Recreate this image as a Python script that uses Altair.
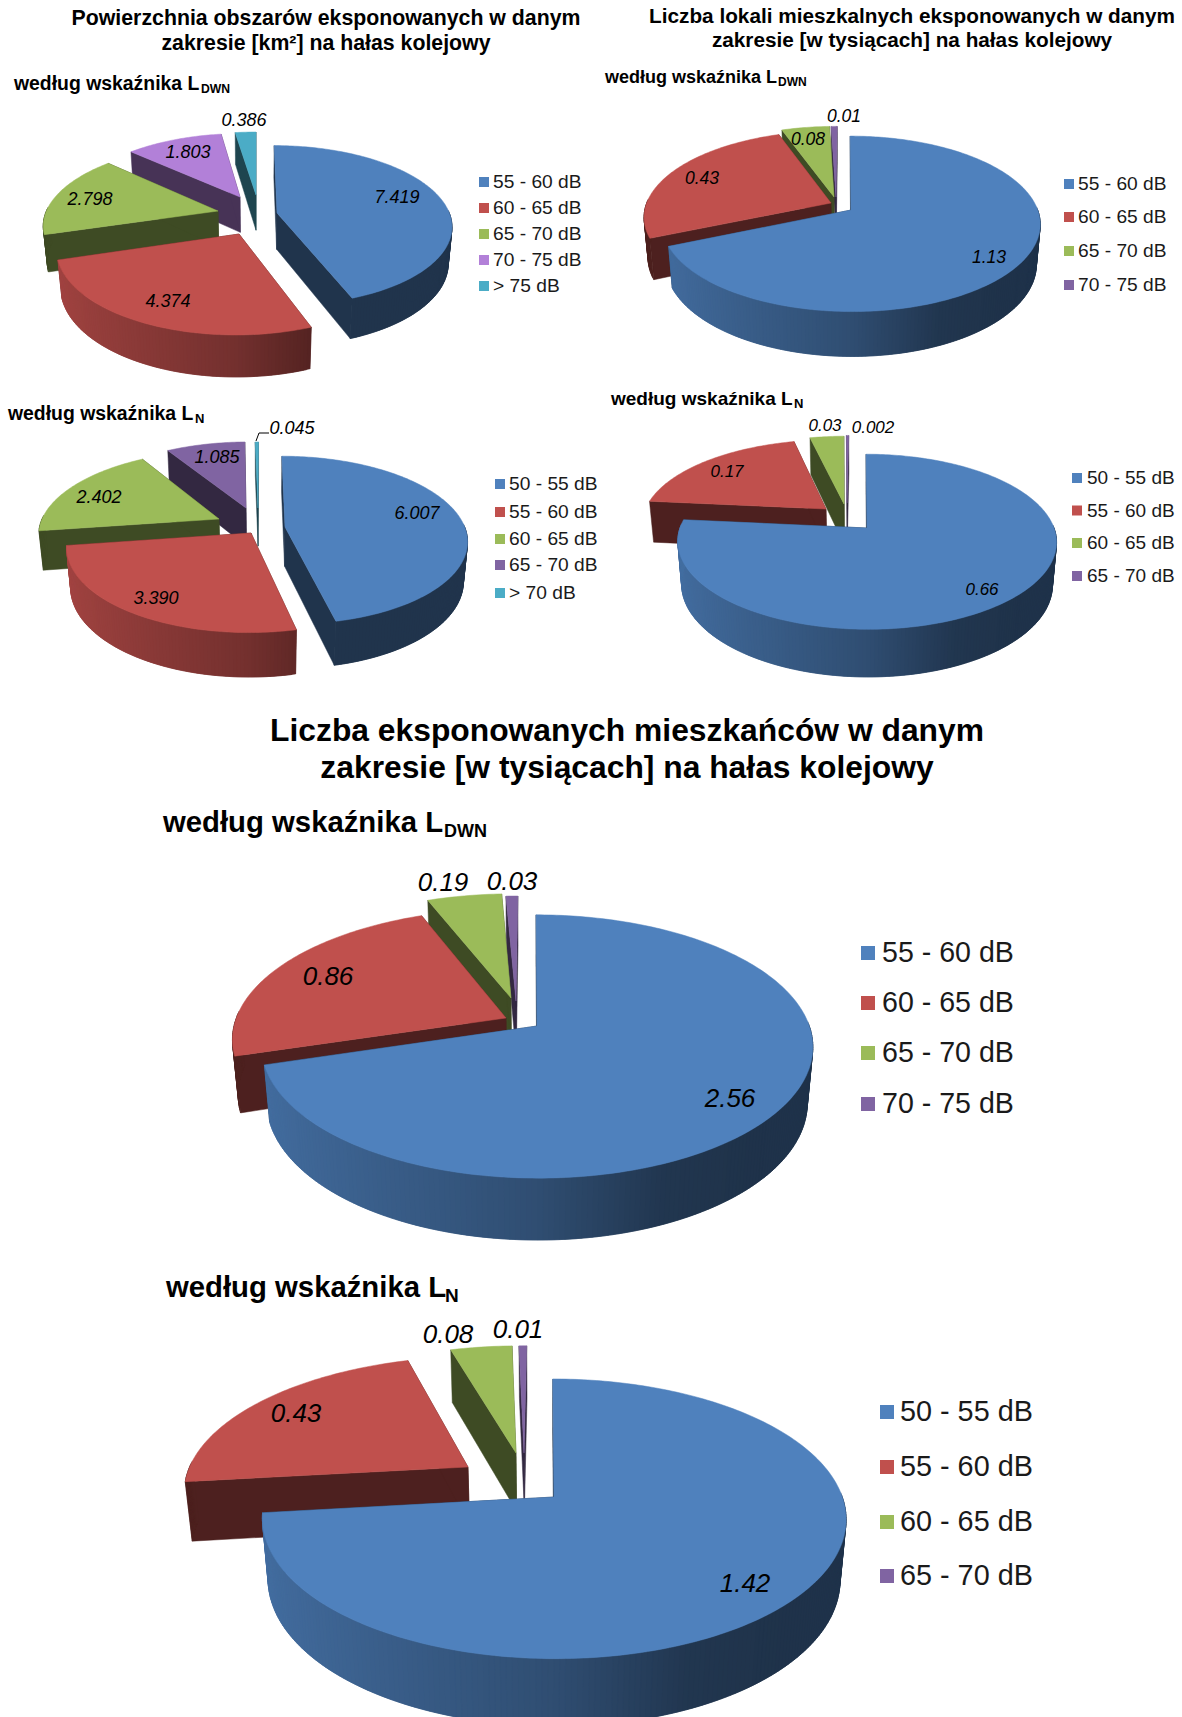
import math
import altair as alt
import numpy as np

# Exposure values for each pie, in slice order (clockwise from 12 o'clock)
area_dwn = [7.419, 4.374, 2.798, 1.803, 0.386]
area_n = [6.007, 3.390, 2.402, 1.085, 0.045]
dwellings_dwn = [1.13, 0.43, 0.08, 0.01]
dwellings_n = [0.66, 0.17, 0.03, 0.002]
residents_dwn = [2.56, 0.86, 0.19, 0.03]
residents_n = [1.42, 0.43, 0.08, 0.01]

# Noise bands named by the legends
bands_dwn5 = ["55 - 60 dB", "60 - 65 dB", "65 - 70 dB", "70 - 75 dB", "> 75 dB"]
bands_n5 = ["50 - 55 dB", "55 - 60 dB", "60 - 65 dB", "65 - 70 dB", "> 70 dB"]
bands_dwn4 = bands_dwn5[:4]
bands_n4 = bands_n5[:4]

BLUE, RED, GREEN, PURPLE, LILAC, CYAN = "#4F81BD", "#C0504D", "#9BBB59", "#8064A2", "#B280D8", "#4BACC6"

TITLE_LINES = [
    ("Powierzchnia obszarów eksponowanych w danym", 326, 24.5, 21.3),
    ("zakresie [km²] na hałas kolejowy", 326, 49.5, 21.3),
    ("Liczba lokali mieszkalnych eksponowanych w danym", 912, 22.5, 20.75),
    ("zakresie [w tysiącach] na hałas kolejowy", 912, 46.5, 20.75),
    ("Liczba eksponowanych mieszkańców w danym", 627, 740.5, 31.8),
    ("zakresie [w tysiącach] na hałas kolejowy", 627, 777.5, 31.8),
]

# Per-pie layout: optical centre, radius, camera tilt and distance, wall depth,
# the screen position of each slice's tip, and where its captions and legend sit.
PIES = [
    dict(values=area_dwn, bands=bands_dwn5, colors=[BLUE, RED, GREEN, LILAC, CYAN], decimals=3,
         c=(256, 215), R=173, tilt=27, dist=5.7, depth=0.24,
         tips=[(277, 213), (239, 234), (218, 211), (240, 197), (256, 195)],
         captions=[(397, 198), (168, 302), (90, 200), (188, 153), (244, 121)], cap=18,
         head=("według wskaźnika L", "DWN", 14, 90, 19.4, 12.2, 201),
         leg=(484, 493, [182, 208, 234, 260, 286], 19.2, 100)),
    dict(values=dwellings_dwn, bands=bands_dwn4, colors=[BLUE, RED, GREEN, PURPLE], decimals=0,
         c=(845, 205), R=185, tilt=27, dist=5.7, depth=0.245,
         tips=[(851, 210), (831, 203), (834, 197), (836, 197)],
         captions=[(989, 258), (702, 179), (808, 140), (844, 117)], cap=17.5,
         head=("według wskaźnika L", "DWN", 605, 83, 18, 12, 778),
         leg=(1069, 1078, [184, 217, 251, 285], 19.2, 100)),
    dict(values=area_n, bands=bands_n5, colors=[BLUE, RED, GREEN, PURPLE, CYAN], decimals=3,
         c=(262, 525), R=179, tilt=27, dist=5.7, depth=0.25,
         tips=[(285, 527), (251, 533), (219, 519), (246, 508), (258, 508)],
         captions=[(417, 514), (156, 599), (99, 498), (217, 458), (292, 429)], cap=18,
         head=("według wskaźnika L", "N", 8, 420, 19.4, 13, 195),
         leg=(500, 509, [484, 512, 539, 565, 593], 19.2, 100)),
    dict(values=dwellings_n, bands=bands_n4, colors=[BLUE, RED, GREEN, PURPLE], decimals=0,
         c=(860, 525), R=186, tilt=27, dist=5.7, depth=0.26,
         tips=[(867, 528), (826, 509), (844, 504), (847, 503)],
         captions=[(982, 590), (727, 472), (825, 426), (873, 428)], cap=17,
         head=("według wskaźnika L", "N", 611, 405, 19, 13, 794),
         leg=(1077, 1087, [478, 510.5, 543, 576], 19, 100)),
    dict(values=residents_dwn, bands=bands_dwn4, colors=[BLUE, RED, GREEN, PURPLE], decimals=0,
         c=(530, 1022), R=271, tilt=28, dist=5.7, depth=0.235,
         tips=[(537, 1026), (506, 1018), (511, 998), (516, 1001)],
         captions=[(730, 1099), (328, 977), (443, 883), (512, 882)], cap=26,
         head=("według wskaźnika L", "DWN", 163, 832, 29.3, 18, 444),
         leg=(868, 882, [953, 1003, 1053, 1104], 28.6, 196)),
    dict(values=residents_n, bands=bands_n4, colors=[BLUE, RED, GREEN, PURPLE], decimals=0,
         c=(545, 1490), R=286, tilt=28, dist=5.7, depth=0.242,
         tips=[(554, 1497), (468, 1467), (516, 1453), (524, 1453)],
         captions=[(745, 1584), (296, 1414), (448, 1335), (518, 1330)], cap=26,
         head=("według wskaźnika L", "N", 166, 1297, 29.3, 19, 445),
         leg=(887, 900, [1412, 1467, 1522, 1576], 28.8, 196)),
]

# Leader joining the 0.045 caption to its sliver
LEADER = [(256, 441), (259, 433), (269, 433)]


def shade(color, f):
    r, g, b = (int(color[i:i + 2], 16) for i in (1, 3, 5))
    return "#%02x%02x%02x" % (round(r * f), round(g * f), round(b * f))


def polygon(points, fill):
    ring = [[float(x), float(y)] for x, y in points]
    ring.append(ring[0])
    return {"type": "Feature", "geometry": {"type": "Polygon", "coordinates": [ring]},
            "properties": {"fill": fill}}


def make_projector(pie):
    cx, cy = pie["c"]
    R, D = pie["R"], pie["dist"]
    e = math.radians(pie["tilt"])

    def project(X, Y, Z=0.0):
        xv, yv, d = X, Y * math.sin(e) + Z * math.cos(e), Y * math.cos(e) - Z * math.sin(e)
        s = D / (D + d)
        return cx + R * xv * s, cy - R * yv * s

    def unproject(px, py):
        sx, sy = px - cx, cy - py
        Y = sy * D / (R * math.sin(e) * D - sy * math.cos(e))
        return sx / R * (D + Y * math.cos(e)) / D, Y

    return project, unproject


def pie_features(pie):
    """Turn one pie's values into painter-ordered 3D polygons."""
    project, unproject = make_projector(pie)
    h = pie["depth"]
    total = sum(pie["values"])
    start = 0.0
    slices = []
    for value, color, tip in zip(pie["values"], pie["colors"], pie["tips"]):
        sweep = value / total * 2 * math.pi
        X0, Y0 = unproject(*tip)
        steps = max(6, int(math.degrees(sweep)))
        angles = np.linspace(start, start + sweep, steps + 1)
        start += sweep
        slices.append((float(np.mean(np.cos(angles))), Y0, X0, angles, color))

    features = []
    for mean_cos, Y0, X0, angles, color in sorted(slices, key=lambda s: -(s[0] + s[1])):
        dark = shade(color, 0.4)
        for a in (angles[0], angles[-1]):
            rim_x, rim_y = X0 + math.sin(a), Y0 + math.cos(a)
            features.append(polygon([project(X0, Y0), project(rim_x, rim_y),
                                     project(rim_x, rim_y, -h), project(X0, Y0, -h)], dark))
        # Only the camera-facing part of the rim is drawn; it shades towards the right.
        # Each strip reaches over the next one, which hides the seams between them.
        for i in range(len(angles) - 1):
            a0, a1 = angles[i], angles[min(i + 2, len(angles) - 1)]
            mid = (angles[i] + angles[i + 1]) / 2
            if math.cos(mid) > 0.03:
                continue
            u = math.sin(mid)
            f = 0.4 if mean_cos > 0 else float(np.interp(u, [-1, 0, 0.4, 0.7], [0.85, 0.6, 0.42, 0.39]))
            features.append(polygon([
                project(X0 + math.sin(a0), Y0 + math.cos(a0)),
                project(X0 + math.sin(a1), Y0 + math.cos(a1)),
                project(X0 + math.sin(a1), Y0 + math.cos(a1), -h),
                project(X0 + math.sin(a0), Y0 + math.cos(a0), -h)], shade(color, f)))
        top = [project(X0, Y0)] + [project(X0 + math.sin(a), Y0 + math.cos(a)) for a in angles]
        features.append(polygon(top, color))
    return features


features, captions, heads, subs, swatches, keys = [], [], [], [], [], []
for pie in PIES:
    features += pie_features(pie)
    for v, (x, y) in zip(pie["values"], pie["captions"]):
        captions.append({"x": x, "y": y, "t": f"{v:.3f}" if pie["decimals"] == 3 else str(v), "s": pie["cap"]})
    main, sub, hx, hy, hs, ss, sx = pie["head"]
    heads.append({"x": hx, "y": hy, "t": main, "s": hs})
    subs.append({"x": sx, "y": hy + hs * 0.16, "t": sub, "s": ss})
    mx, tx, rows, ls, area = pie["leg"]
    for band, color, row in zip(pie["bands"], pie["colors"], rows):
        swatches.append({"x": mx, "y": row, "c": color, "a": area})
        keys.append({"x": tx, "y": row, "t": band, "s": ls})

titles = [{"t": t, "x": x, "y": y, "s": s} for t, x, y, s in TITLE_LINES]
leader = [{"x": x, "y": y, "o": i} for i, (x, y) in enumerate(LEADER)]

FONT = "Liberation Sans"
px = alt.X("x:Q", scale=None, axis=None)
py = alt.Y("y:Q", scale=None, axis=None)
text_enc = dict(x=px, y=py, text="t:N", size=alt.Size("s:Q", scale=None, legend=None))

solids = alt.Chart(alt.Data(values=features)).mark_geoshape(strokeWidth=0.5).encode(
    fill=alt.Fill("properties.fill:N", scale=None, legend=None),
    stroke=alt.Stroke("properties.fill:N", scale=None, legend=None),
).project(type="identity", scale=1, translate=[0, 0], reflectY=False)

title_layer = alt.Chart(alt.Data(values=titles)).mark_text(
    font=FONT, fontWeight="bold", align="center", baseline="alphabetic", color="#000000").encode(**text_enc)
head_layer = alt.Chart(alt.Data(values=heads)).mark_text(
    font=FONT, fontWeight="bold", align="left", baseline="alphabetic", color="#000000").encode(**text_enc)
sub_layer = alt.Chart(alt.Data(values=subs)).mark_text(
    font=FONT, fontWeight="bold", align="left", baseline="alphabetic", color="#000000").encode(**text_enc)
caption_layer = alt.Chart(alt.Data(values=captions)).mark_text(
    font=FONT, fontStyle="italic", align="center", baseline="middle", color="#000000").encode(**text_enc)
key_layer = alt.Chart(alt.Data(values=keys)).mark_text(
    font=FONT, align="left", baseline="middle", color="#1a1a1a").encode(**text_enc)
swatch_layer = alt.Chart(alt.Data(values=swatches)).mark_square(opacity=1).encode(
    x=px, y=py,
    color=alt.Color("c:N", scale=None, legend=None),
    size=alt.Size("a:Q", scale=None, legend=None),
)
leader_layer = alt.Chart(alt.Data(values=leader)).mark_line(color="#000000", strokeWidth=1).encode(
    x=px, y=py, order="o:Q")

chart = alt.layer(
    solids, leader_layer, swatch_layer, title_layer, head_layer, sub_layer, caption_layer, key_layer
).properties(
    width=1182, height=1717, padding=0, autosize="none", background="#ffffff"
).configure_view(stroke=None)

chart.save("out.html", embed_options={"renderer": "svg", "actions": False})
